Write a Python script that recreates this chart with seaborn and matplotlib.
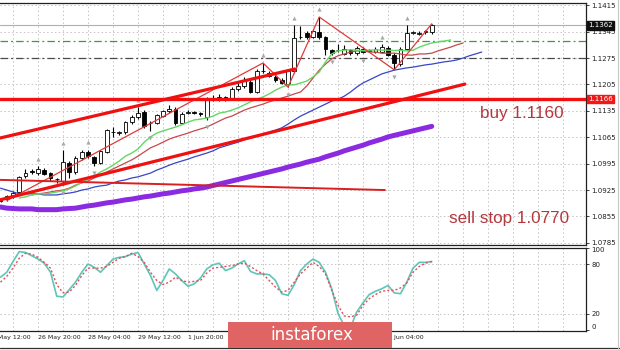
import numpy as np
import pandas as pd
import matplotlib
matplotlib.use("Agg")
import matplotlib.pyplot as plt
import matplotlib.transforms as mtransforms
from matplotlib.patches import Rectangle
from matplotlib.lines import Line2D
import seaborn as sns

# ---------------- data ----------------
opens = [1.0897, 1.0900, 1.0910, 1.0920, 1.0962, 1.0975, 1.0970, 1.0978, 1.0970, 1.0955,
         1.0948, 1.0998, 1.0972, 1.1010, 1.1025, 1.1012, 1.0998, 1.1025, 1.1080, 1.1076,
         1.1078, 1.1105, 1.1118, 1.1132, 1.1102, 1.1103, 1.1122, 1.1134, 1.1140, 1.1104,
         1.1130, 1.1132, 1.1130, 1.1118, 1.1168, 1.1166, 1.1172, 1.1168, 1.1192, 1.1200,
         1.1212, 1.1186, 1.1240, 1.1236, 1.1226, 1.1218, 1.1205, 1.1240, 1.1330, 1.1342,
         1.1332, 1.1344, 1.1330, 1.1296, 1.1296, 1.1287, 1.1296, 1.1288, 1.1300, 1.1294,
         1.1292, 1.1292, 1.1302, 1.1284, 1.1258, 1.1300, 1.1342, 1.1340, 1.1343, 1.1343]
highs = [1.0905, 1.0913, 1.0922, 1.0963, 1.0982, 1.0980, 1.0988, 1.0983, 1.0973, 1.0958,
         1.1031, 1.1003, 1.1015, 1.1030, 1.1032, 1.1016, 1.1032, 1.1087, 1.1092, 1.1082,
         1.1108, 1.1124, 1.1145, 1.1136, 1.1108, 1.1128, 1.1138, 1.1150, 1.1145, 1.1132,
         1.1136, 1.1135, 1.1132, 1.1172, 1.1178, 1.1180, 1.1175, 1.1197, 1.1210, 1.1225,
         1.1216, 1.1245, 1.1262, 1.1240, 1.1229, 1.1222, 1.1244, 1.1362, 1.1360, 1.1348,
         1.1352, 1.1384, 1.1334, 1.1300, 1.1312, 1.1310, 1.1300, 1.1306, 1.1305, 1.1300,
         1.1305, 1.1312, 1.1306, 1.1288, 1.1304, 1.1362, 1.1346, 1.1346, 1.1350, 1.1366]
lows = [1.0893, 1.0897, 1.0905, 1.0915, 1.0958, 1.0968, 1.0966, 1.0964, 1.0950, 1.0945,
        1.0938, 1.0957, 1.0968, 1.1005, 1.1010, 1.0990, 1.0994, 1.1022, 1.1066, 1.1070,
        1.1074, 1.1100, 1.1114, 1.1090, 1.1082, 1.1100, 1.1118, 1.1130, 1.1098, 1.1100,
        1.1126, 1.1127, 1.1122, 1.1112, 1.1160, 1.1162, 1.1162, 1.1164, 1.1188, 1.1196,
        1.1182, 1.1182, 1.1235, 1.1224, 1.1212, 1.1205, 1.1198, 1.1236, 1.1325, 1.1326,
        1.1328, 1.1326, 1.1283, 1.1284, 1.1290, 1.1284, 1.1284, 1.1282, 1.1288, 1.1290,
        1.1288, 1.1288, 1.1280, 1.1244, 1.1254, 1.1296, 1.1338, 1.1336, 1.1340, 1.1340]
closes = [1.0900, 1.0910, 1.0918, 1.0960, 1.0970, 1.0972, 1.0980, 1.0968, 1.0956, 1.0953,
          1.1000, 1.0973, 1.1010, 1.1026, 1.1015, 1.0998, 1.1028, 1.1084, 1.1078, 1.1078,
          1.1105, 1.1120, 1.1130, 1.1095, 1.1104, 1.1124, 1.1134, 1.1139, 1.1104, 1.1128,
          1.1132, 1.1130, 1.1126, 1.1168, 1.1170, 1.1172, 1.1166, 1.1193, 1.1202, 1.1217,
          1.1186, 1.1240, 1.1242, 1.1228, 1.1216, 1.1210, 1.1240, 1.1328, 1.1332, 1.1330,
          1.1347, 1.1331, 1.1300, 1.1288, 1.1297, 1.1298, 1.1288, 1.1302, 1.1292, 1.1296,
          1.1300, 1.1304, 1.1284, 1.1262, 1.1300, 1.1342, 1.1343, 1.1342, 1.1346, 1.1362]

# Alligator lines (already shifted forward: lips +3, teeth +5, jaw +8)
lips_start = 3
lips = [1.0904, 1.0907, 1.0912, 1.0915, 1.0915, 1.0917, 1.0920, 1.0923, 1.0928, 1.0936,
        1.0946, 1.0954, 1.0962, 1.0973, 1.0981, 1.0991, 1.1002, 1.1015, 1.1023, 1.1034,
        1.1052, 1.1066, 1.1076, 1.1082, 1.1087, 1.1092, 1.1098, 1.1105, 1.1111, 1.1113,
        1.1116, 1.1121, 1.1129, 1.1132, 1.1137, 1.1143, 1.1151, 1.1159, 1.1166, 1.1172,
        1.1180, 1.1190, 1.1198, 1.1204, 1.1204, 1.1209, 1.1214, 1.1225, 1.1238, 1.1265,
        1.1286, 1.1294, 1.1296, 1.1297, 1.1296, 1.1295, 1.1296, 1.1297, 1.1296, 1.1296,
        1.1295, 1.1296, 1.1294, 1.1296, 1.1304, 1.1310, 1.1315, 1.1318, 1.1320, 1.1323]
teeth_start = 5
teeth = [1.0912, 1.0915, 1.0917, 1.0920, 1.0923, 1.0925, 1.0930, 1.0938, 1.0944, 1.0949,
         1.0957, 1.0965, 1.0973, 1.0981, 1.0989, 1.0997, 1.1005, 1.1015, 1.1026, 1.1037,
         1.1044, 1.1052, 1.1060, 1.1066, 1.1071, 1.1076, 1.1082, 1.1087, 1.1092, 1.1100,
         1.1108, 1.1116, 1.1121, 1.1129, 1.1137, 1.1143, 1.1148, 1.1153, 1.1159, 1.1164,
         1.1169, 1.1174, 1.1180, 1.1185, 1.1201, 1.1222, 1.1243, 1.1259, 1.1273, 1.1281,
         1.1286, 1.1291, 1.1294, 1.1294, 1.1291, 1.1291, 1.1288, 1.1288, 1.1288, 1.1286,
         1.1283, 1.1283, 1.1286, 1.1286, 1.1288, 1.1294, 1.1299, 1.1304, 1.1310, 1.1315]
jaw_start = 0
jaw = [1.0930, 1.0925, 1.0920, 1.0915, 1.0915, 1.0915, 1.0915, 1.0912, 1.0912, 1.0912,
       1.0915, 1.0917, 1.0920, 1.0925, 1.0928, 1.0933, 1.0936, 1.0938, 1.0944, 1.0949,
       1.0952, 1.0957, 1.0960, 1.0965, 1.0970, 1.0978, 1.0984, 1.0991, 1.0997, 1.1002,
       1.1007, 1.1013, 1.1018, 1.1023, 1.1029, 1.1037, 1.1042, 1.1047, 1.1052, 1.1058,
       1.1063, 1.1068, 1.1074, 1.1079, 1.1084, 1.1090, 1.1100, 1.1111, 1.1121, 1.1129,
       1.1137, 1.1145, 1.1153, 1.1161, 1.1166, 1.1174, 1.1185, 1.1198, 1.1209, 1.1217,
       1.1225, 1.1233, 1.1238, 1.1243, 1.1246, 1.1249, 1.1251, 1.1254, 1.1257, 1.1259,
       1.1262, 1.1265, 1.1267, 1.1270, 1.1275, 1.1281, 1.1286, 1.1291]
# long moving average (thick purple)
long_ma = [1.0880, 1.0877, 1.0876, 1.0875, 1.0875, 1.0875, 1.0873, 1.0873, 1.0873, 1.0873,
           1.0875, 1.0876, 1.0877, 1.0880, 1.0883, 1.0885, 1.0888, 1.0891, 1.0893, 1.0896,
           1.0899, 1.0901, 1.0904, 1.0907, 1.0909, 1.0912, 1.0915, 1.0917, 1.0920, 1.0923,
           1.0925, 1.0928, 1.0930, 1.0933, 1.0937, 1.0941, 1.0945, 1.0949, 1.0953, 1.0957,
           1.0961, 1.0965, 1.0969, 1.0973, 1.0977, 1.0981, 1.0986, 1.0990, 1.0994, 1.0999,
           1.1003, 1.1007, 1.1013, 1.1018, 1.1023, 1.1029, 1.1034, 1.1039, 1.1044, 1.1050,
           1.1055, 1.1060, 1.1066, 1.1070, 1.1074, 1.1078, 1.1082, 1.1086, 1.1090, 1.1094]

# zigzag pivots (candle index, high/low)
zz_idx = [1, 42, 46, 51, 63, 69]
zz_kind = ["L", "H", "L", "H", "L", "H"]
# fractals
frac_up = [6, 10, 14, 22, 27, 42, 47, 51, 61, 65]
frac_dn = [10, 15, 24, 33, 46, 53, 58, 63]

# drawn trend lines: (start idx, start price, end idx, end price)
chan_upper = (-0.08, 1.1063, 47.1, 1.1246)
chan_lower = (-0.08, 1.0899, 74.3, 1.1206)
flat_line = (-0.08, 1.0952, 61.5, 1.0925)
buy_level = 1.1166
bid_level = 1.1362
green_level = 1.1321
gray_level = 1.1275

# stochastic
stoch_k = [64, 70, 83, 95, 94, 90, 86, 81, 70, 41, 40, 49, 58, 70, 80, 76, 70, 78, 86, 88,
           89, 92, 94, 80, 66, 48, 60, 74, 68, 60, 53, 56, 63, 74, 79, 81, 72, 75, 80, 84,
           71, 68, 68, 67, 60, 44, 42, 55, 72, 80, 86, 82, 70, 50, 20, 5, 3, 22, 33, 43,
           47, 50, 54, 45, 44, 58, 75, 82, 82, 83]
stoch_d = [58, 65, 75, 87, 93, 92, 88, 82, 75, 55, 45, 46, 54, 66, 75, 75, 75, 77, 82, 87,
           89, 93, 89, 82, 70, 60, 55, 58, 64, 60, 58, 59, 60, 69, 75, 76, 77, 78, 80, 81,
           77, 72, 68, 60, 52, 46, 48, 58, 68, 75, 82, 77, 68, 48, 30, 17, 16, 18, 30, 38,
           43, 47, 48, 48, 51, 57, 70, 77, 81, 83]

price_ticks = [1.0785, 1.0855, 1.0925, 1.0995, 1.1065, 1.1135, 1.1205, 1.1275, 1.1345, 1.1415]
time_tick_idx = [-2, 6, 14, 22, 30, 38, 46, 54, 62]
time_labels = ["25 May 12:00", "26 May 20:00", "28 May 04:00", "29 May 12:00", "1 Jun 20:00",
               "3 Jun 04:00", "4 Jun 12:00", "5 Jun 20:00", "9 Jun 04:00"]
stoch_ticks = [0, 20, 80, 100]

# ---------------- figure ----------------
sns.set_theme(style="white")
plt.rcParams['font.family'] = ['DejaVu Sans']

W, H = 620, 350
fig = plt.figure(figsize=(6.2, 3.5), dpi=100)
fig.patch.set_facecolor('white')


def rect(x0, y0, x1, y1):
    return [x0 / W, 1 - y1 / H, (x1 - x0) / W, (y1 - y0) / H]


ax = fig.add_axes(rect(0, 3, 586, 244.5))
ax2 = fig.add_axes(rect(0, 247.5, 586, 331), sharex=ax)

xlim = (-0.08, 93.68)
grid_idx = np.arange(2, 95, 4)

for a in (ax, ax2):
    a.set_facecolor('white')
    for s in ('top', 'right', 'bottom'):
        a.spines[s].set_visible(True)
        a.spines[s].set_color('#202020')
        a.spines[s].set_linewidth(0.9)
    a.spines['left'].set_visible(False)
    for g in grid_idx:
        a.axvline(g, color='#c4c4c4', lw=0.7, ls=(0, (1.5, 2.5)), zorder=0.5)

ax.set_xlim(*xlim)
ax.set_ylim(1.07806, 1.14211)
ax.set_xticks([])
ax.yaxis.tick_right()
ax.set_yticks(price_ticks)
ax.set_yticklabels([f"{t:.4f}" for t in price_ticks])
ax.tick_params(axis='y', which='both', right=True, left=False, direction='out',
               length=2.5, width=0.6, pad=1.2, labelsize=5, colors='#202020')
for t in price_ticks:
    ax.axhline(t, color='#c4c4c4', lw=0.7, ls=(0, (1.5, 2.5)), zorder=0.5)

idx = np.arange(len(opens))
o = np.array(opens); c = np.array(closes)
hi = np.array(highs); lo = np.array(lows)

# indicator lines (seaborn)
sns.lineplot(x=idx, y=long_ma, ax=ax, color='#8a2be2', linewidth=3.6, zorder=4)
sns.lineplot(x=np.arange(jaw_start, jaw_start + len(jaw)), y=jaw, ax=ax,
             color='#3646c8', linewidth=0.9, zorder=4)
sns.lineplot(x=np.arange(teeth_start, teeth_start + len(teeth)), y=teeth, ax=ax,
             color='#c8484a', linewidth=0.9, zorder=4)
sns.lineplot(x=np.arange(lips_start, lips_start + len(lips)), y=lips, ax=ax,
             color='#62d862', linewidth=1.0, zorder=4)

# candles
ax.vlines(idx, lo, hi, color='black', linewidth=0.8, zorder=3)
body_lo = np.minimum(o, c)
body_h = np.maximum(np.abs(c - o), 0.00012)
ax.bar(idx, body_h, bottom=body_lo, width=0.6,
       color=np.where(c >= o, 'white', 'black'), edgecolor='black', linewidth=0.6, zorder=3.5)

# zigzag
zz_price = [hi[i] if k == "H" else lo[i] for i, k in zip(zz_idx, zz_kind)]
sns.lineplot(x=zz_idx, y=zz_price, ax=ax, color='#e03a3a', linewidth=0.9, zorder=4.5, sort=False)

# fractals
ax.scatter(frac_up, hi[frac_up] + 0.0020, marker='^', s=9, color='#a8a8a8', zorder=4, linewidths=0)
ax.scatter(frac_dn, lo[frac_dn] - 0.0020, marker='v', s=9, color='#a8a8a8', zorder=4, linewidths=0)

# drawn lines
for (x0, p0, x1, p1), lw, col in ((chan_upper, 2.3, '#f01010'), (chan_lower, 2.3, '#f01010'),
                                  (flat_line, 1.4, '#d82020')):
    sns.lineplot(x=[x0, x1], y=[p0, p1], ax=ax, color=col, linewidth=lw, zorder=5)
ax.axhline(buy_level, color='#f01010', lw=2.4, zorder=5)
ax.axhline(bid_level, color='#b0b0b0', lw=0.8, zorder=1)
ax.axhline(green_level, color='#3c9c3c', lw=0.9, ls=(0, (6, 2.5, 1.5, 2.5)), zorder=1)
ax.axhline(gray_level, color='#4a4a4a', lw=0.9, ls=(0, (6, 2.5, 1.5, 2.5)), zorder=1)

# price label boxes on the axis
blend = mtransforms.blended_transform_factory(ax.transAxes, ax.transData)
ax.text(1.004, bid_level, f"{bid_level:.4f}", transform=blend, ha='left', va='center',
        fontsize=5, color='white', clip_on=False, zorder=10,
        bbox=dict(boxstyle='square,pad=0.18', fc='#101010', ec='#101010'))
ax.text(1.004, buy_level, f"{buy_level:.4f}", transform=blend, ha='left', va='center',
        fontsize=5, color='white', clip_on=False, zorder=10,
        bbox=dict(boxstyle='square,pad=0.18', fc='#f01818', ec='#f01818'))

# annotations
ax.text(0.891, 0.5445, "buy 1.1160", transform=ax.transAxes, ha='center', va='center',
        fontsize=12.3, color='#b5373c', family=['Liberation Sans', 'DejaVu Sans'], zorder=6)
ax.text(0.8686, 0.1097, "sell stop 1.0770", transform=ax.transAxes, ha='center', va='center',
        fontsize=12.3, color='#b5373c', family=['Liberation Sans', 'DejaVu Sans'], zorder=6)

# stochastic panel
ax2.set_ylim(-1.2, 100)
sns.lineplot(x=idx, y=stoch_k, ax=ax2, color='#5cc6b8', linewidth=1.2, zorder=3)
sns.lineplot(x=idx, y=stoch_d, ax=ax2, color='#e0505a', linewidth=1.0, linestyle=(0, (1.5, 1.5)), zorder=3.5)
for lv in (20, 80):
    ax2.axhline(lv, color='#c4c4c4', lw=0.7, ls=(0, (1.5, 2.5)), zorder=0.5)
ax2.yaxis.tick_right()
ax2.set_yticks(stoch_ticks)
ax2.set_yticklabels([str(t) for t in stoch_ticks])
ax2.tick_params(axis='y', which='both', right=True, left=False, direction='out',
                length=2.5, width=0.6, pad=1.2, labelsize=5, colors='#202020')
labs = ax2.get_yticklabels()
labs[0].set_va('bottom')
labs[-1].set_va('top')
ax2.tick_params(axis='x', which='both', bottom=False, top=False, labelbottom=False)
ax2.set_xlim(*xlim)
ax2.set_xlabel("")
ax.set_xlabel("")
ax.set_ylabel("")
ax2.set_ylabel("")

# time labels
tblend = mtransforms.blended_transform_factory(ax2.transData, fig.transFigure)
for ti, tl in zip(time_tick_idx, time_labels):
    ax2.text(ti, 1 - 338 / H, tl, transform=tblend, ha='left', va='center', fontsize=4.5,
             color='#202020', clip_on=False)

# bottom rule and banner
fig.add_artist(Line2D([0, 1], [1 - 347.5 / H, 1 - 347.5 / H], transform=fig.transFigure,
                      color='#303030', lw=0.9, zorder=5))
fig.add_artist(Line2D([1 - 2 / W, 1 - 2 / W], [0, 1], transform=fig.transFigure,
                      color='#c8c8c8', lw=0.8, zorder=5))
banner = Rectangle((228 / W, 1 - 348 / H), 164 / W, 26 / H, transform=fig.transFigure,
                   facecolor='#e06464', edgecolor='none', zorder=10)
fig.add_artist(banner)
fig.text(312 / W, 1 - 334.5 / H, "instaforex", color='white', fontsize=12, ha='center',
         va='center', zorder=11)

fig.savefig("out.png", dpi=100)
